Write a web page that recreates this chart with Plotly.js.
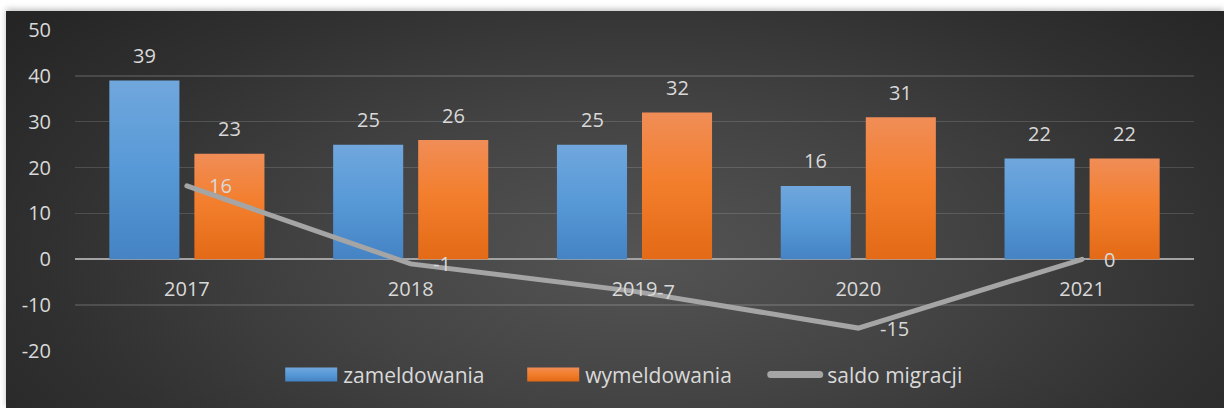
<!DOCTYPE html>
<html>
<head>
<meta charset="utf-8">
<script src="https://cdn.plot.ly/plotly-3.0.1.min.js"></script>
<style>
  html, body { margin:0; padding:0; background:#ffffff; width:1224px; height:408px; overflow:hidden; }
  #bg { position:absolute; left:6px; top:11px; width:1218px; height:397px;
        background: radial-gradient(ellipse 65% 95% at 52% 62%, #545454 0%, #434343 40%, #303030 75%, #252525 100%);
        box-shadow: 0 -2px 6px rgba(0,0,0,0.25); }
  #chart { position:absolute; left:0; top:0; width:1224px; height:408px; }
</style>
</head>
<body>
<div id="bg"></div>
<div id="chart"></div>
<script>
const years = ['2017', '2018', '2019', '2020', '2021'];
const zameldowania = [39, 25, 25, 16, 22];
const wymeldowania = [23, 26, 32, 31, 22];
const saldo = [16, -1, -7, -15, 0];
const yTicks = [-20, -10, 0, 10, 20, 30, 40, 50];

const txtColor = '#d9d9d9';
const fontFam = '"Open Sans", "Noto Sans", sans-serif';

const traces = [
  { type:'bar', name:'zameldowania', x:years, y:zameldowania,
    marker:{color:'#5596d6'}, hoverinfo:'skip' },
  { type:'bar', name:'wymeldowania', x:years, y:wymeldowania,
    marker:{color:'#ee7a2e'}, hoverinfo:'skip' },
  { type:'scatter', mode:'lines', name:'saldo migracji', x:years, y:saldo,
    line:{color:'#a5a5a5', width:5}, hoverinfo:'skip' }
];

// annotation x uses the category index (string years would be read as numbers)
const annotations = [];
years.forEach((yr, i) => {
  annotations.push({ x:i, y:zameldowania[i], xref:'x', yref:'y', text:String(zameldowania[i]),
    showarrow:false, xshift:-42.5, yshift:25, yanchor:'middle', font:{size:20, color:txtColor, family:fontFam} });
  annotations.push({ x:i, y:wymeldowania[i], xref:'x', yref:'y', text:String(wymeldowania[i]),
    showarrow:false, xshift:42.5, yshift:25, yanchor:'middle', font:{size:20, color:txtColor, family:fontFam} });
  annotations.push({ x:i, y:saldo[i], xref:'x', yref:'y', text:String(saldo[i]),
    showarrow:false, xanchor:'left', xshift:20, yanchor:'middle', font:{size:20, color:txtColor, family:fontFam} });
});

const layout = {
  width:1224, height:408,
  paper_bgcolor:'rgba(0,0,0,0)', plot_bgcolor:'rgba(0,0,0,0)',
  margin:{l:75, r:30, t:30, b:57},
  barmode:'group', bargap:0.24, bargroupgap:0.176,
  font:{family:fontFam, color:txtColor, size:20},
  showlegend:true,
  legend:{orientation:'h', x:0.1825, xanchor:'left', y:-0.074, yanchor:'middle',
          itemwidth:54, entrywidth:173, entrywidthmode:'pixels',
          font:{size:21, color:txtColor, family:fontFam}, bgcolor:'rgba(0,0,0,0)', traceorder:'normal'},
  xaxis:{ type:'category', range:[-0.5, 4.5], autorange:false, anchor:'free', position:20/70,
          showgrid:false, showline:false,
          ticks:'', ticklabelstandoff:16, tickfont:{size:20, color:txtColor}, zeroline:false },
  yaxis:{ range:[-20, 50], autorange:false, tickvals:yTicks, ticktext:yTicks.map(String), showgrid:true,
          gridcolor:'rgba(255,255,255,0.14)', gridwidth:1.5,
          zeroline:true, zerolinecolor:'#a3a3a3', zerolinewidth:2,
          ticks:'', ticklabelstandoff:23, tickfont:{size:20, color:txtColor}, showline:false },
  annotations: annotations
};

Plotly.newPlot('chart', traces, layout, {staticPlot:true}).then(gd => {
  const NS = 'http://www.w3.org/2000/svg';
  const svg = gd.querySelector('svg.main-svg');
  let defs = svg.querySelector('defs');
  if (!defs) { defs = document.createElementNS(NS, 'defs'); svg.insertBefore(defs, svg.firstChild); }
  function addGrad(id, stops) {
    const g = document.createElementNS(NS, 'linearGradient');
    g.setAttribute('id', id);
    g.setAttribute('x1', '0'); g.setAttribute('y1', '0'); g.setAttribute('x2', '0'); g.setAttribute('y2', '1');
    stops.forEach(([o, c]) => {
      const s = document.createElementNS(NS, 'stop');
      s.setAttribute('offset', o); s.setAttribute('stop-color', c);
      g.appendChild(s);
    });
    defs.appendChild(g);
  }
  addGrad('gBlue', [[0, '#70a7dd'], [0.5, '#5799d7'], [1, '#4583c4']]);
  addGrad('gOrange', [[0, '#f08d57'], [0.45, '#f37f2e'], [1, '#e36a16']]);
  const grads = ['url(#gBlue)', 'url(#gOrange)'];

  gd.querySelectorAll('.barlayer .trace').forEach((tr, i) => {
    tr.querySelectorAll('path').forEach(p => { p.style.fill = grads[i]; });
  });
  gd.querySelectorAll('.scatterlayer path.js-line').forEach(p => {
    p.style.strokeLinecap = 'round';
  });

  gd.querySelectorAll('.legend .traces').forEach((g, idx) => {
    const t = g.querySelector('text.legendtext');
    const tx = parseFloat(t.getAttribute('x')) || 40;
    if (idx < 2) {
      g.querySelectorAll('.legendpoints path').forEach(p => {
        p.removeAttribute('transform');
        p.setAttribute('d', `M${tx - 6},-7H${tx - 58}V7H${tx - 6}Z`);
        p.style.fill = grads[idx];
        p.style.stroke = 'none';
      });
    } else {
      g.querySelectorAll('path.js-line').forEach(p => {
        p.removeAttribute('transform');
        p.setAttribute('d', `M${tx - 56.5},0H${tx - 7.5}`);
        p.style.strokeWidth = '7px';
        p.style.strokeLinecap = 'round';
      });
    }
  });
});
</script>
</body>
</html>
